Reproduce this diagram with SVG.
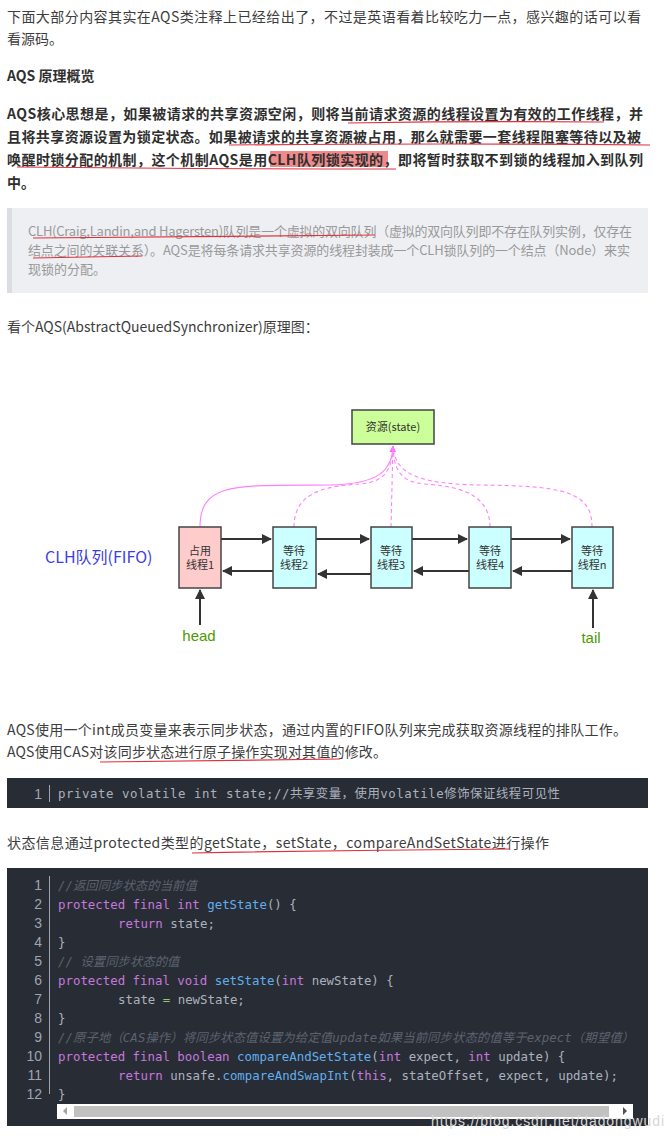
<svg xmlns="http://www.w3.org/2000/svg" width="672" height="1140" viewBox="0 0 672 1140">
<defs>
<style>
.t{font-family:"Noto Sans CJK SC","Liberation Sans",sans-serif;font-size:14px;fill:#3d3d3d}
.b{font-weight:bold;fill:#2f2f2f}
.q{font-size:13px;fill:#999}
.ul{stroke:#e0323c;stroke-width:1.2;fill:none}
.node{stroke:#444;stroke-width:1.5}
.nt{font-family:"Noto Sans CJK SC","Liberation Sans",sans-serif;font-size:11px;fill:#333;text-anchor:middle}
.ar{stroke:#333;stroke-width:2;fill:none;marker-end:url(#ah)}
.pk{stroke:#ff80ff;stroke-width:1.1;fill:none}
.dash{stroke-dasharray:4,3}
.c{font-family:"DejaVu Sans Mono","Liberation Mono","Noto Sans CJK SC",monospace;font-size:12.4px;fill:#abb2bf}
.k{fill:#c678dd}.f{fill:#61afef}.cm{fill:#5c6370;font-style:italic}.g{fill:#98c379}
.ln{font-family:"Liberation Sans",sans-serif;font-size:14px;fill:#9da5b4;text-anchor:end}
</style>
<marker id="ah" viewBox="0 0 10 10" refX="9" refY="5" markerWidth="5" markerHeight="5" orient="auto"><path d="M0,0L10,5L0,10z" fill="#333"/></marker>
<marker id="ph" viewBox="0 0 10 10" refX="9" refY="5" markerWidth="7" markerHeight="7" orient="auto" markerUnits="userSpaceOnUse"><path d="M0,0L10,5L0,10z" fill="#ff66ff"/></marker>
</defs>
<rect width="672" height="1140" fill="#fff"/>

<text class="t" x="7" y="22" textLength="634">下面大部分内容其实在AQS类注释上已经给出了，不过是英语看着比较吃力一点，感兴趣的话可以看</text>
<text class="t" x="7" y="44">看源码。</text>
<text class="t b" x="7" y="81">AQS 原理概览</text>

<rect x="270" y="151" width="118" height="16" fill="#f08a8a"/>
<text class="t b" x="7" y="119" textLength="636">AQS核心思想是，如果被请求的共享资源空闲，则将当前请求资源的线程设置为有效的工作线程，并</text>
<text class="t b" x="7" y="142" textLength="634">且将共享资源设置为锁定状态。如果被请求的共享资源被占用，那么就需要一套线程阻塞等待以及被</text>
<text class="t b" x="7" y="165" textLength="636">唤醒时锁分配的机制，这个机制AQS是用CLH队列锁实现的，即将暂时获取不到锁的线程加入到队列</text>
<text class="t b" x="7" y="188">中。</text>
<path class="ul" d="M348,123 Q480,121 604,122"/>
<path class="ul" d="M229,145 Q450,143 650,145"/>
<path class="ul" d="M17,167 Q200,169 396,169"/>

<rect x="7" y="208" width="641" height="85" fill="#eeeff3"/>
<rect x="7" y="208" width="5" height="85" fill="#dcdde2"/>
<text class="t q" x="28" y="236" textLength="604">CLH(Craig,Landin,and Hagersten)队列是一个虚拟的双向队列（虚拟的双向队列即不存在队列实例，仅存在</text>
<text class="t q" x="28" y="255" textLength="602">结点之间的关联关系）。AQS是将每条请求共享资源的线程封装成一个CLH锁队列的一个结点（Node）来实</text>
<text class="t q" x="28" y="274">现锁的分配。</text>
<path class="ul" d="M33,238 Q200,236 375,235"/>
<path class="ul" d="M33,258 Q90,257 142,256"/>

<text class="t" x="7" y="332">看个AQS(AbstractQueuedSynchronizer)原理图：</text>

<g id="connectors">
<path class="pk" d="M200,527 C200,480 240,486 330,485 C380,484 392,470 393,446" marker-end="url(#ph)"/>
<path class="pk dash" d="M294,527 C294,490 330,486 360,484 C385,482 392,470 393,446"/>
<path class="pk dash" d="M391,527 L393,446"/>
<path class="pk dash" d="M490,527 C490,490 450,486 425,484 C400,482 394,470 393,446"/>
<path class="pk dash" d="M592,527 C592,490 560,486 480,485 C410,484 395,470 393,446"/>
<path class="ar" d="M221,539 L271,539"/>
<path class="ar" d="M316,539 L369,539"/>
<path class="ar" d="M412,539 L467,539"/>
<path class="ar" d="M511,539 L570,539"/>
<path class="ar" d="M273,571 L223,571"/>
<path class="ar" d="M371,574 L318,574"/>
<path class="ar" d="M469,571 L414,571"/>
<path class="ar" d="M572,571 L513,571"/>
<path class="ar" d="M200,625 L200,590"/>
<path class="ar" d="M593,628 L593,590"/>
</g>
<g id="state"><rect class="node" x="352" y="410" width="82" height="34" fill="#ccff99"/><text class="nt" x="393" y="431">资源(state)</text></g>
<g id="n1"><rect class="node" x="179" y="527" width="42" height="61" fill="#ffcccc"/><text class="nt" x="200" y="555">占用</text><text class="nt" x="200" y="569">线程1</text></g>
<g id="n2"><rect class="node" x="273" y="527" width="43" height="61" fill="#ccffff"/><text class="nt" x="294" y="555">等待</text><text class="nt" x="294" y="569">线程2</text></g>
<g id="n3"><rect class="node" x="371" y="527" width="41" height="61" fill="#ccffff"/><text class="nt" x="391" y="555">等待</text><text class="nt" x="391" y="569">线程3</text></g>
<g id="n4"><rect class="node" x="469" y="527" width="42" height="61" fill="#ccffff"/><text class="nt" x="490" y="555">等待</text><text class="nt" x="490" y="569">线程4</text></g>
<g id="n5"><rect class="node" x="572" y="527" width="41" height="61" fill="#ccffff"/><text class="nt" x="592" y="555">等待</text><text class="nt" x="592" y="569">线程n</text></g>
<g id="clh"><text x="45" y="563" font-family="Noto Sans CJK SC,Liberation Sans,sans-serif" font-size="16" fill="#3c3ce8">CLH队列(FIFO)</text></g>
<g id="head"><text x="199" y="641" font-family="Liberation Sans,sans-serif" font-size="15" fill="#4d9a00" text-anchor="middle">head</text></g>
<g id="tail"><text x="591" y="643" font-family="Liberation Sans,sans-serif" font-size="15" fill="#4d9a00" text-anchor="middle">tail</text></g>

<text class="t" x="7" y="735" textLength="620">AQS使用一个int成员变量来表示同步状态，通过内置的FIFO队列来完成获取资源线程的排队工作。</text>
<text class="t" x="7" y="757" textLength="380">AQS使用CAS对该同步状态进行原子操作实现对其值的修改。</text>
<path class="ul" d="M100,762 Q220,760 340,759"/>

<rect x="7" y="778" width="641" height="30" fill="#282c34"/>
<text class="ln" x="42" y="799">1</text>
<rect x="49" y="785" width="1" height="17" fill="#9da5b4"/>
<text class="c" x="58" y="798" textLength="502">private volatile int state;//共享变量，使用volatile修饰保证线程可见性</text>

<text class="t" x="7" y="848" textLength="542">状态信息通过protected类型的getState，setState，compareAndSetState进行操作</text>
<path class="ul" d="M192,853 Q350,850 510,849"/>

<rect x="7" y="868" width="641" height="258" fill="#282c34"/>
<rect x="49" y="876" width="1" height="218" fill="#9da5b4"/>
<g class="ln">
<text x="42" y="890">1</text><text x="42" y="909">2</text><text x="42" y="928">3</text><text x="42" y="947">4</text><text x="42" y="966">5</text><text x="42" y="985">6</text><text x="42" y="1004">7</text><text x="42" y="1023">8</text><text x="42" y="1042">9</text><text x="42" y="1061">10</text><text x="42" y="1080">11</text><text x="42" y="1099">12</text>
</g>
<text class="c" x="58" y="890"><tspan class="cm">//返回同步状态的当前值</tspan></text>
<text class="c" x="58" y="909"><tspan class="k">protected final int</tspan> <tspan class="f">getState</tspan>() {</text>
<text class="c" x="118" y="928"><tspan class="k">return</tspan> state;</text>
<text class="c" x="58" y="947">}</text>
<text class="c" x="58" y="966"><tspan class="cm"> // 设置同步状态的值</tspan></text>
<text class="c" x="58" y="985"><tspan class="k">protected final void</tspan> <tspan class="f">setState</tspan>(<tspan class="k">int</tspan> newState) {</text>
<text class="c" x="118" y="1004">state <tspan class="g">=</tspan> newState;</text>
<text class="c" x="58" y="1023">}</text>
<text class="c" x="58" y="1042" textLength="576"><tspan class="cm">//原子地（CAS操作）将同步状态值设置为给定值update如果当前同步状态的值等于expect（期望值）</tspan></text>
<text class="c" x="58" y="1061"><tspan class="k">protected final boolean</tspan> <tspan class="f">compareAndSetState</tspan>(<tspan class="k">int</tspan> expect, <tspan class="k">int</tspan> update) {</text>
<text class="c" x="118" y="1080"><tspan class="k">return</tspan> unsafe.<tspan class="f">compareAndSwapInt</tspan>(<tspan class="k">this</tspan>, stateOffset, expect, update);</text>
<text class="c" x="58" y="1099">}</text>
<rect x="57" y="1104" width="576" height="15" fill="#fff"/>
<rect x="74" y="1106" width="535" height="11" fill="#c1c1c1"/>
<path d="M67,1107 L63,1111 L67,1115z" fill="#a3a3a3"/>
<path d="M623,1107 L627,1111 L623,1115z" fill="#505050"/>
<text x="431" y="1126" font-family="Liberation Sans,sans-serif" font-size="14" fill="#d8d8d8" textLength="233">https://blog.csdn.net/dadongwudi</text>
</svg>
